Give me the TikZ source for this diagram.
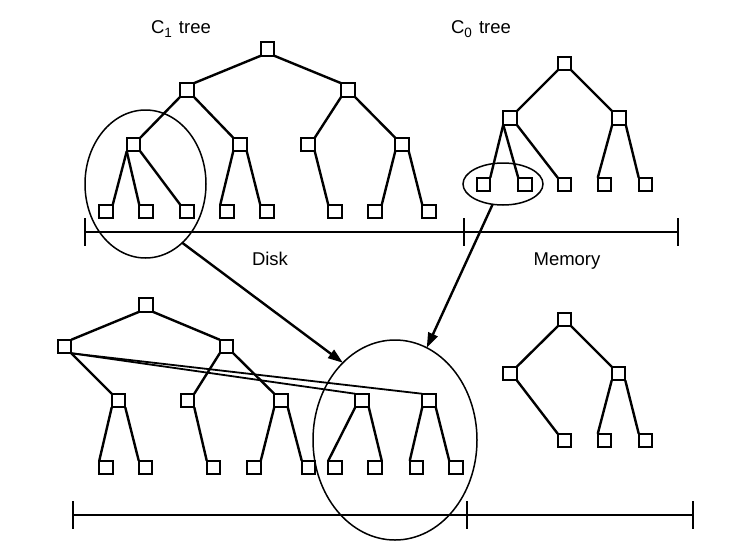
\documentclass[tikz,border=0pt]{standalone}
\usepackage{fontspec}
\setmainfont{Liberation Sans}
\usetikzlibrary{shapes.geometric,arrows.meta}

\tikzset{
  box/.style={draw, fill=white, line width=1.7pt, minimum size=13.5pt, inner sep=0pt, outer sep=0pt},
  edge/.style={line width=2.4pt},
  longedge/.style={line width=1.8pt},
  ring/.style={draw, ellipse, line width=1.5pt, inner sep=0pt, outer sep=0pt},
  scaleline/.style={line width=2pt},
  flow/.style={line width=2.4pt, -{Triangle[length=15pt,width=10pt]}},
  caption/.style={font=\fontsize{18.5}{22}\selectfont, anchor=base, inner sep=0pt}
}
% lowered index digit in the tree captions
\newcommand\treeidx[1]{\raisebox{-4pt}{\fontsize{13.5}{14}\selectfont #1}\hspace{7pt}}

\begin{document}
\begin{tikzpicture}[x=1pt,y=-1pt]
\useasboundingbox (0,0) rectangle (747,544);

% ---------- labels ----------
\node[caption] (lc1) at (181,33) {C\treeidx{1}tree};
\node[caption] (lc0) at (481,33) {C\treeidx{0}tree};
\node[caption] (ldisk) at (270,265) {Disk};
\node[caption] (lmem) at (567,265) {Memory};

% ---------- C1 tree (on disk) ----------
\node[box] (a0) at (267.5,49) {};
\node[box] (a1) at (187,90) {};
\node[box] (a2) at (348,90) {};
\node[box] (a3) at (133.5,144.5) {};
\node[box] (a4) at (240,144.5) {};
\node[box] (a5) at (308,144.5) {};
\node[box] (a6) at (402,144.5) {};
\foreach \n/\x in {7/106,8/146,9/187,10/227,11/267,12/335,13/375,14/429}
  \node[box] (a\n) at (\x,211.5) {};

\draw[edge] (a0.south west) -- (a1.north east);
\draw[edge] (a0.south east) -- (a2.north west);
\draw[edge] (a1.south west) -- (a3.north east);
\draw[edge] (a1.south east) -- (a4.north west);
\draw[edge] (a2.south west) -- (a5.north east);
\draw[edge] (a2.south east) -- (a6.north west);
\draw[edge] (a3.south west) -- (a7.north east);
\draw[edge] (a3.south west) -- (a8.north west);
\draw[edge] (a3.south east) -- (a9.north west);
\draw[edge] (a4.south west) -- (a10.north west);
\draw[edge] (a4.south east) -- (a11.north west);
\draw[edge] (a5.south east) -- (a12.north west);
\draw[edge] (a6.south west) -- (a13.north east);
\draw[edge] (a6.south east) -- (a14.north west);

% ---------- C0 tree (in memory) ----------
\node[box] (b0) at (564.5,63.5) {};
\node[box] (b1) at (510,118) {};
\node[box] (b2) at (619,118) {};
\foreach \n/\x in {3/483.5,4/525,5/564.5,6/604.5,7/645.5}
  \node[box] (b\n) at (\x,184.5) {};

\draw[edge] (b0.south west) -- (b1.north east);
\draw[edge] (b0.south east) -- (b2.north west);
\draw[edge] (b1.south west) -- (b3.north east);
\draw[edge] (b1.south west) -- (b4.north west);
\draw[edge] (b1.south east) -- (b5.north west);
\draw[edge] (b2.south west) -- (b6.north west);
\draw[edge] (b2.south east) -- (b7.north west);

% ---------- merged C1 tree ----------
\node[box] (c0) at (146,305) {};
\node[box] (c1) at (64.5,346.5) {};
\node[box] (c2) at (226.5,346.5) {};
\foreach \n/\x in {3/118.5,4/187.5,5/281,6/362,7/429}
  \node[box] (c\n) at (\x,400.5) {};
\foreach \n/\x in {8/106,9/145.5,10/213.5,11/254,12/308.5,13/335,14/375,15/416.5,16/456}
  \node[box] (c\n) at (\x,467.5) {};

\draw[edge] (c0.south west) -- (c1.north east);
\draw[edge] (c0.south east) -- (c2.north west);
\draw[edge] (c1.south east) -- (c3.north west);
\draw[longedge] (c1.south east) -- (c6.north west);
\draw[longedge] (c1.south east) -- (c7.north west);
\draw[edge] (c2.south west) -- (c4.north east);
\draw[edge] (c2.south east) -- (c5.north west);
\draw[edge] (c3.south west) -- (c8.north west);
\draw[edge] (c3.south east) -- (c9.north west);
\draw[edge] (c4.south east) -- (c10.north west);
\draw[edge] (c5.south west) -- (c11.north east);
\draw[edge] (c5.south east) -- (c12.north west);
\draw[edge] (c6.south west) -- (c13.north west);
\draw[edge] (c6.south east) -- (c14.north east);
\draw[edge] (c7.south west) -- (c15.north west);
\draw[edge] (c7.south east) -- (c16.north west);

% ---------- remaining C0 tree ----------
\node[box] (d0) at (564.5,319.5) {};
\node[box] (d1) at (510,373.5) {};
\node[box] (d2) at (618.5,373.5) {};
\foreach \n/\x in {3/564.5,4/604.5,5/645.5}
  \node[box] (d\n) at (\x,440.5) {};

\draw[edge] (d0.south west) -- (d1.north east);
\draw[edge] (d0.south east) -- (d2.north west);
\draw[edge] (d1.south east) -- (d3.north west);
\draw[edge] (d2.south west) -- (d4.north west);
\draw[edge] (d2.south east) -- (d5.north west);

% ---------- selections and merge arrows ----------
\node[ring, minimum width=121pt, minimum height=148pt] (e1) at (145.5,184) {};
\node[ring, minimum width=80pt, minimum height=42pt] (e2) at (503,184) {};
\node[ring, minimum width=164pt, minimum height=200pt] (e3) at (395,440) {};

\draw[flow] (e1.-58) -- (e3.124.5);
\draw[flow] (e2.-117) -- (e3.71.6);

% ---------- disk / memory scales ----------
\coordinate (tL) at (85,232);
\coordinate (tM) at (464,232);
\coordinate (tR) at (678,232);
\draw[scaleline] (tL) -- (tR);
\foreach \p in {tL,tM,tR}
  \draw[scaleline] ([yshift=14pt]\p) -- ([yshift=-14pt]\p);

\coordinate (bL) at (73,515);
\coordinate (bM) at (467,515);
\coordinate (bR) at (693,515);
\draw[scaleline] (bL) -- (bR);
\foreach \p in {bL,bM,bR}
  \draw[scaleline] ([yshift=14pt]\p) -- ([yshift=-14pt]\p);
\end{tikzpicture}
\end{document}
